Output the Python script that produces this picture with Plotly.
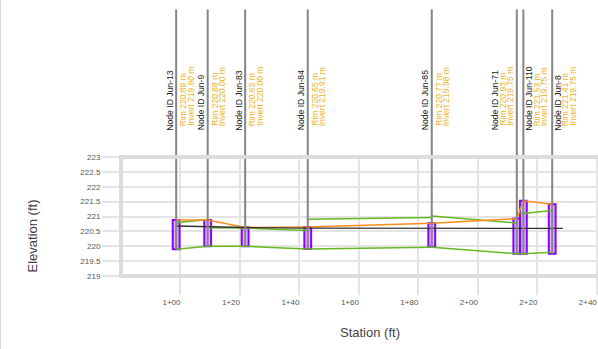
import plotly.graph_objects as go

# ---- profile data -------------------------------------------------------
node_ids = ["Jun-13", "Jun-9", "Jun-83", "Jun-84", "Jun-85", "Jun-71", "Jun-110", "Jun-8"]
stations = [98.55, 109.15, 121.75, 142.8, 184.5, 213.1, 215.3, 225.0]
rims = [220.88, 220.88, 220.63, 220.65, 220.77, 220.93, 221.53, 221.41]
inverts = [219.90, 220.00, 220.00, 219.91, 219.98, 219.75, 219.75, 219.75]

# pipes between consecutive nodes (upstream index -> downstream index)
pipe_from = [0, 1, 2, 3, 4, 5, 6]
pipe_to = [1, 2, 3, 4, 5, 6, 7]
pipe_inv_up = [219.90, 220.00, 220.00, 219.91, 219.97, 219.75, 219.75]
pipe_inv_dn = [220.00, 220.00, 219.91, 219.97, 219.75, 219.75, 219.80]
pipe_crown_up = [220.79, 220.62, 220.61, 220.91, 221.02, 221.10, 221.10]
pipe_crown_dn = [220.90, 220.61, 220.53, 220.97, 220.78, 221.10, 221.20]

# hydraulic grade line
hgl_station = [98.55, 121.75, 142.8, 184.5, 228.6]
hgl_elev = [220.68, 220.63, 220.61, 220.60, 220.60]

x_tick_vals = [100, 120, 140, 160, 180, 200, 220, 240]
x_tick_text = ["%d+%02d" % (v // 100, v % 100) for v in x_tick_vals]

# ---- styling / layout constants -----------------------------------------
X_RANGE = [80, 240.4]
Y_RANGE = [219, 223]
FONT = "Liberation Sans, Arial, sans-serif"
RIM_COLOR = "#f0b21a"
NODE_LINE = "#858585"
# label offsets (px) from each node line: node id, rim line, invert line
label_offsets = {
    "default": (-7, 6.5, 14),
    "Jun-71": (-22, -14.7, -7.5),
    "Jun-110": (5.5, 13.5, 20.5),
    "Jun-8": (5, 12.5, 20),
}

fig = go.Figure()

# pipe crowns and inverts
px, py = [], []
for a, b, iu, idn, cu, cd in zip(pipe_from, pipe_to, pipe_inv_up, pipe_inv_dn,
                                 pipe_crown_up, pipe_crown_dn):
    px += [stations[a], stations[b], None, stations[a], stations[b], None]
    py += [cu, cd, None, iu, idn, None]
fig.add_trace(go.Scatter(x=px, y=py, mode="lines",
                         line=dict(color="#66b822", width=1.5),
                         hoverinfo="skip"))

# ground (rim) line
fig.add_trace(go.Scatter(x=stations, y=rims, mode="lines",
                         line=dict(color="#ff8c1a", width=1.5),
                         hoverinfo="skip"))

# HGL
fig.add_trace(go.Scatter(x=hgl_station, y=hgl_elev, mode="lines",
                         line=dict(color="#333333", width=1.3),
                         hoverinfo="skip"))

# manholes as bars from invert to rim
fig.add_trace(go.Bar(x=stations, y=[r - i for r, i in zip(rims, inverts)],
                     base=inverts, width=2.3,
                     marker=dict(color="rgba(165,90,255,0.42)",
                                 line=dict(color="#8a00ff", width=2)),
                     hoverinfo="skip"))

# node lines inside the plot (invert up to the top of the axis)
vx, vy = [], []
for s, inv in zip(stations, inverts):
    vx += [s, s, None]
    vy += [inv, Y_RANGE[1], None]
fig.add_trace(go.Scatter(x=vx, y=vy, mode="lines",
                         line=dict(color=NODE_LINE, width=2),
                         hoverinfo="skip"))

shapes = []
# node lines continuing above the plot
for s in stations:
    shapes.append(dict(type="line", xref="x", yref="paper", x0=s, x1=s,
                       y0=1, y1=2.24, line=dict(color=NODE_LINE, width=2)))
# frame around the plot area
shapes.append(dict(type="rect", xref="paper", yref="paper", x0=0, x1=1.05,
                   y0=0, y1=1, line=dict(color="#dcdcdc", width=4),
                   layer="above"))
# thin page border on the left
shapes.append(dict(type="line", xref="paper", yref="paper",
                   x0=-120.5 / 477, x1=-120.5 / 477, y0=-0.62, y1=2.33,
                   line=dict(color="#d6d6d6", width=1)))

annotations = []
for nid, s, r, inv in zip(node_ids, stations, rims, inverts):
    o_id, o_rim, o_inv = label_offsets.get(nid, label_offsets["default"])
    common = dict(x=s, xref="x", yref="paper", y=1, textangle=-90,
                  showarrow=False, xanchor="center", yanchor="bottom",
                  borderpad=0)
    annotations.append(dict(text="Node ID " + nid, xshift=o_id, yshift=25.5,
                            font=dict(family=FONT, size=8.6, color="#1a1a1a"),
                            **common))
    annotations.append(dict(text="Rim %.2f m" % r, xshift=o_rim, yshift=30,
                            font=dict(family=FONT, size=8.5, color=RIM_COLOR),
                            **common))
    annotations.append(dict(text="Invert %.2f m" % inv, xshift=o_inv, yshift=30,
                            font=dict(family=FONT, size=8.5, color=RIM_COLOR),
                            **common))

# axis titles
annotations.append(dict(text="Station (ft)", xref="paper", yref="paper",
                        x=(370 - 121) / 477, y=(276.5 - 333) / 119,
                        showarrow=False, xanchor="center", yanchor="middle",
                        font=dict(family=FONT, size=13, color="#444444")))
annotations.append(dict(text="Elevation (ft)", xref="paper", yref="paper",
                        x=(32 - 121) / 477, y=(276.5 - 237) / 119,
                        textangle=-90, showarrow=False,
                        xanchor="center", yanchor="middle",
                        font=dict(family=FONT, size=13, color="#444444")))

fig.update_layout(
    width=598, height=349,
    margin=dict(l=121, r=0, t=157, b=73),
    paper_bgcolor="white", plot_bgcolor="white",
    showlegend=False,
    shapes=shapes,
    annotations=annotations,
    font=dict(family=FONT),
    xaxis=dict(range=X_RANGE, tickvals=x_tick_vals, ticktext=x_tick_text,
               showgrid=True, gridcolor="#e4e4e4", gridwidth=1.5,
               ticks="outside", ticklen=18, tickwidth=1.5, tickcolor="#e4e4e4",
               ticklabelshift=-9,
               tickfont=dict(family=FONT, size=8, color="#555555"),
               zeroline=False, showline=False),
    yaxis=dict(range=Y_RANGE, dtick=0.5,
               showgrid=True, gridcolor="#e4e4e4", gridwidth=1.5,
               ticks="outside", ticklen=18, tickwidth=1.5, tickcolor="#e4e4e4",
               tickfont=dict(family=FONT, size=8, color="#555555"),
               zeroline=False, showline=False),
)

fig.write_html("out.html")
